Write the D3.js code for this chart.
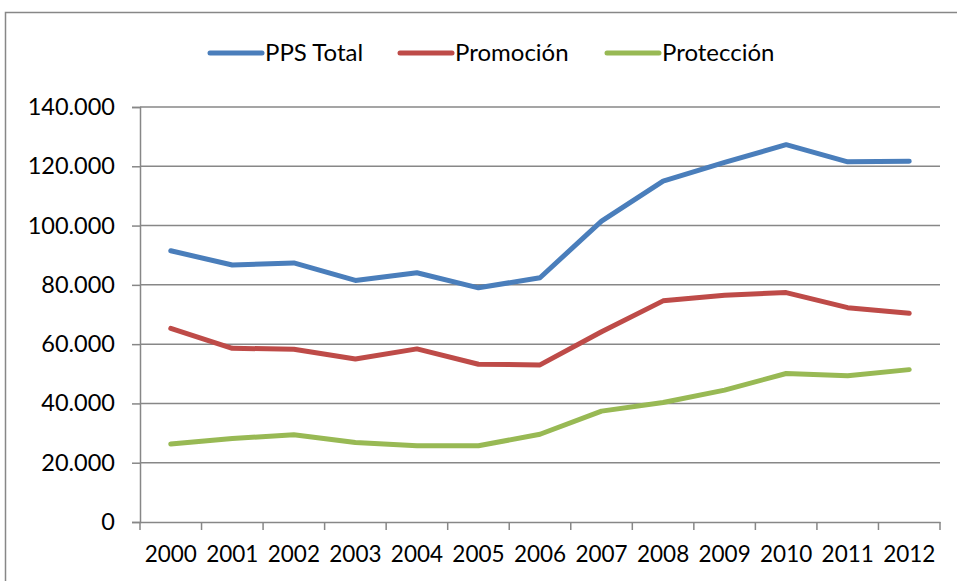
<!DOCTYPE html>
<html><head><meta charset="utf-8">
<script src="https://cdn.jsdelivr.net/npm/d3@7"></script>
<style>body{margin:0;background:#fff}svg{display:block}text{font-family:Lato,"Open Sans",sans-serif;fill:#000}</style>
</head><body><svg id="c" width="957" height="581"></svg>
<script>
const years = ["2000","2001","2002","2003","2004","2005","2006","2007","2008","2009","2010","2011","2012"];
const ppsTotal = [91.5,86.7,87.4,81.5,84.1,79.0,82.4,101.5,115.0,121.3,127.3,121.5,121.7];
const promocion = [65.3,58.6,58.3,55.0,58.4,53.2,53.0,64.2,74.6,76.5,77.4,72.3,70.4];
const proteccion = [26.3,28.2,29.4,26.8,25.7,25.7,29.6,37.4,40.3,44.5,50.1,49.3,51.4];
const yTicks = [0,20,40,60,80,100,120,140];
const yTickLabels = ["0","20.000","40.000","60.000","80.000","100.000","120.000","140.000"];
const seriesNames = ["PPS Total","Promoción","Protección"];
const seriesColors = ["#4A7EBB","#BE4B48","#98B954"];
const seriesData = [ppsTotal, promocion, proteccion];

const svg = d3.select("#c");
svg.append("rect").attr("x",5.5).attr("y",12.5).attr("width",1000).attr("height",1000)
  .attr("fill","#fff").attr("stroke","#878787").attr("stroke-width",1.5);

const L=140,R=940,T=107,B=522;
const x = d3.scaleBand().domain(years).range([L,R]);
const y = d3.scaleLinear().domain([0,140]).range([B,T]);
const axisCol = "#878787";

svg.append("g").selectAll("line").data(yTicks.filter(d=>d>0)).join("line")
  .attr("x1",L).attr("x2",R).attr("y1",d=>y(d)).attr("y2",d=>y(d))
  .attr("stroke",axisCol).attr("stroke-width",1.5);

const ya = svg.append("g").attr("transform",`translate(${L},0)`)
  .call(d3.axisLeft(y).tickValues(yTicks).tickSize(8).tickPadding(17)
    .tickFormat((d,i)=>yTickLabels[i]));
ya.select(".domain").attr("stroke",axisCol).attr("stroke-width",1.5);
ya.selectAll(".tick line").attr("stroke",axisCol).attr("stroke-width",1.5);
ya.selectAll("text").attr("font-size",23.5).attr("font-family","Lato");

const xa = svg.append("g").attr("transform",`translate(0,${B})`)
  .call(d3.axisBottom(x).tickSize(0).tickPadding(24));
xa.select(".domain").attr("stroke",axisCol).attr("stroke-width",1.5);
xa.selectAll("text").attr("font-size",22.5).attr("font-family","Lato");
xa.selectAll("line.bt").data(d3.range(years.length+1)).join("line").attr("class","bt")
  .attr("x1",i=>L+i*x.step()).attr("x2",i=>L+i*x.step()).attr("y1",0).attr("y2",8)
  .attr("stroke",axisCol).attr("stroke-width",1.5);

const line = d3.line().x((d,i)=>x(years[i])+x.bandwidth()/2).y(d=>y(d));
seriesData.forEach((s,k)=>{
  svg.append("path").datum(s).attr("d",line).attr("fill","none")
    .attr("stroke",seriesColors[k]).attr("stroke-width",5)
    .attr("stroke-linejoin","round").attr("stroke-linecap","round");
});

const legX = [208,398,605];
const lg = svg.append("g");
seriesNames.forEach((n,k)=>{
  lg.append("line").attr("x1",legX[k]+2).attr("x2",legX[k]+54).attr("y1",53).attr("y2",53)
    .attr("stroke",seriesColors[k]).attr("stroke-width",5).attr("stroke-linecap","round");
  lg.append("text").attr("x",legX[k]+57).attr("y",53).attr("dy","0.35em")
    .attr("font-size",24).text(n);
});
</script></body></html>
